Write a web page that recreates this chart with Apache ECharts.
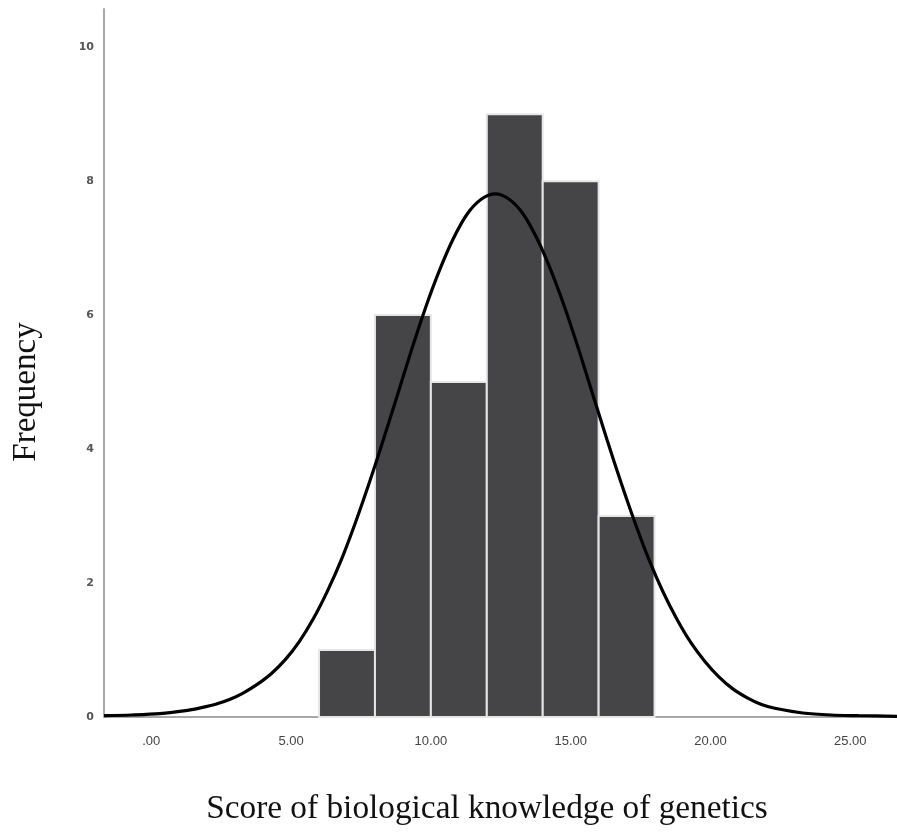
<!DOCTYPE html>
<html>
<head>
<meta charset="utf-8">
<script src="https://cdn.jsdelivr.net/npm/echarts@6/dist/echarts.min.js"></script>
<style>
html,body{margin:0;padding:0;background:#fff;}
#chart{width:897px;height:832px;}
</style>
</head>
<body>
<div id="chart"></div>
<script>
// Histogram bins (score ranges) and frequencies
var binStart = [6, 8, 10, 12, 14, 16];
var binEnd = [8, 10, 12, 14, 16, 18];
var counts = [1, 6, 5, 9, 8, 3];

// Fitted normal curve
var curveX = [-1.69, -0.7, 0.3, 1.3, 1.8, 2.3, 2.8, 3.3, 3.8, 4.3, 4.8, 5.3, 5.8, 6.3, 6.8, 7.3, 7.8, 8.3, 8.8, 9.3, 9.8, 10.3, 10.8, 11.3, 11.8, 12.3,
              12.8, 13.3, 13.8, 14.3, 14.8, 15.3, 15.8, 16.3, 16.8, 17.3, 17.8, 18.3, 18.8, 19.3, 19.8, 20.3, 20.8, 21.3, 21.8, 22.3, 23.3, 24.3, 25.3, 26.67];
var curveY = [0.02, 0.03, 0.05, 0.10, 0.14, 0.19, 0.26, 0.36, 0.49, 0.65, 0.86, 1.13, 1.47, 1.88, 2.35, 2.90, 3.50, 4.14, 4.80, 5.47, 6.10, 6.66, 7.14, 7.51, 7.73, 7.81,
              7.73, 7.51, 7.14, 6.66, 6.10, 5.47, 4.80, 4.14, 3.50, 2.90, 2.35, 1.87, 1.46, 1.11, 0.83, 0.60, 0.42, 0.29, 0.19, 0.13, 0.06, 0.03, 0.02, 0.01];

// Tick labels
var xTicks = [0, 5, 10, 15, 20, 25];
var xTickLabels = ['.00', '5.00', '10.00', '15.00', '20.00', '25.00'];
var yTicks = [0, 2, 4, 6, 8, 10];

var xTitle = 'Score of biological knowledge of genetics';
var yTitle = 'Frequency';

var histData = binStart.map(function (s, i) { return [s, binEnd[i], counts[i]]; });
var curveData = curveX.map(function (x, i) { return [x, curveY[i]]; });

var titleFont = '"Liberation Serif", "DejaVu Serif", serif';

var chart = echarts.init(document.getElementById('chart'));
chart.setOption({
  backgroundColor: '#ffffff',
  animation: false,
  grid: { left: 104, right: 0, top: 9, bottom: 115, containLabel: false, outerBoundsMode: 'none' },
  xAxis: {
    type: 'value',
    min: -1.69,
    max: 26.67,
    splitLine: { show: false },
    axisTick: { show: false },
    axisLine: { show: true, onZero: false, lineStyle: { color: '#a8a8a8', width: 2 } },
    axisLabel: {
      customValues: xTicks,
      margin: 18,
      color: '#444',
      fontSize: 13,
      fontFamily: '"Liberation Sans Narrow", "Liberation Sans", Arial, sans-serif',
      formatter: function (v) {
        var i = xTicks.indexOf(v);
        return i >= 0 ? xTickLabels[i] : '';
      }
    }
  },
  yAxis: {
    type: 'value',
    min: 0,
    max: 10.57,
    splitLine: { show: false },
    axisTick: { show: false },
    axisLine: { show: true, onZero: false, lineStyle: { color: '#a8a8a8', width: 2 } },
    axisLabel: {
      customValues: yTicks,
      margin: 10,
      color: '#555',
      fontSize: 11,
      fontWeight: 'bold',
      fontFamily: '"DejaVu Sans", Verdana, sans-serif'
    }
  },
  graphic: [
    {
      type: 'text',
      x: 487,
      y: 809,
      scaleX: 0.98,
      style: { text: xTitle, fill: '#111', fontSize: 34, fontFamily: titleFont, align: 'center', verticalAlign: 'middle' }
    },
    {
      type: 'text',
      x: 26,
      y: 392,
      rotation: Math.PI / 2,
      style: { text: yTitle, fill: '#111', fontSize: 33, fontFamily: titleFont, align: 'center', verticalAlign: 'middle' }
    }
  ],
  series: [
    {
      type: 'custom',
      z: 2,
      data: histData,
      encode: { x: [0, 1], y: 2 },
      renderItem: function (params, api) {
        var p0 = api.coord([api.value(0), 0]);
        var p1 = api.coord([api.value(1), api.value(2)]);
        return {
          type: 'rect',
          shape: { x: p0[0], y: p1[1], width: p1[0] - p0[0], height: p0[1] - p1[1] },
          style: { fill: '#454547', stroke: '#e6e6e6', lineWidth: 2 }
        };
      }
    },
    {
      type: 'line',
      z: 5,
      data: curveData,
      smooth: 0.3,
      showSymbol: false,
      clip: true,
      lineStyle: { color: '#000', width: 3.2 }
    }
  ]
});
</script>
</body>
</html>
